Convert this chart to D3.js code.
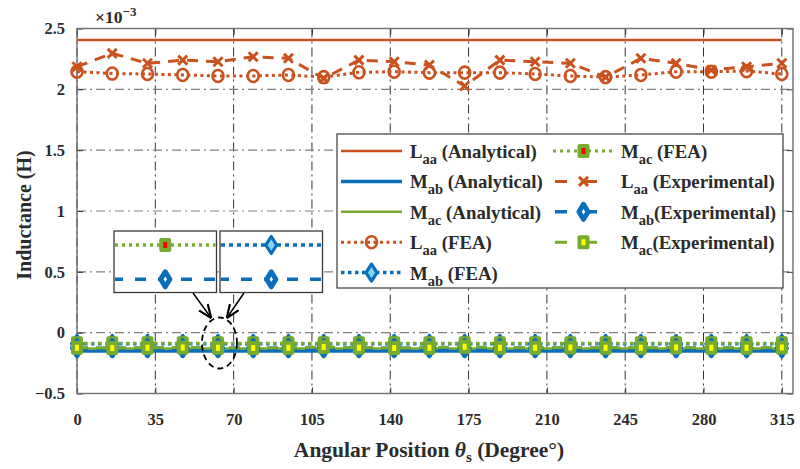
<!DOCTYPE html>
<html>
<head>
<meta charset="utf-8">
<script src="https://d3js.org/d3.v7.min.js"></script>
<style>
body { margin: 0; background: #fff; }
svg text { font-family: "Liberation Serif", "DejaVu Serif", serif; font-weight: bold; fill: #2b2b2b; }
</style>
</head>
<body>
<script>
// angular positions (degree) and inductances (x 10^-3 H)
var angles = [0, 15.75, 31.5, 47.25, 63, 78.75, 94.5, 110.25, 126, 141.75, 157.5,
              173.25, 189, 204.75, 220.5, 236.25, 252, 267.75, 283.5, 299.25, 315];

var laaAnalytical = [2.405, 2.405, 2.405, 2.405, 2.405, 2.405, 2.405, 2.405, 2.405, 2.405, 2.405,
                     2.405, 2.405, 2.405, 2.405, 2.405, 2.405, 2.405, 2.405, 2.405, 2.405];
var mabAnalytical = [-0.150, -0.150, -0.150, -0.150, -0.150, -0.150, -0.150, -0.150, -0.150, -0.150, -0.150,
                     -0.150, -0.150, -0.150, -0.150, -0.150, -0.150, -0.150, -0.150, -0.150, -0.150];
var macAnalytical = [-0.130, -0.130, -0.130, -0.130, -0.130, -0.130, -0.130, -0.130, -0.130, -0.130, -0.130,
                     -0.130, -0.130, -0.130, -0.130, -0.130, -0.130, -0.130, -0.130, -0.130, -0.130];
var laaFEA = [2.145, 2.130, 2.126, 2.118, 2.110, 2.110, 2.118, 2.100, 2.140, 2.145, 2.137,
              2.137, 2.137, 2.126, 2.110, 2.100, 2.118, 2.145, 2.145, 2.150, 2.126];
var mabFEA = [-0.092, -0.092, -0.092, -0.092, -0.092, -0.092, -0.092, -0.092, -0.092, -0.092, -0.092,
              -0.092, -0.092, -0.092, -0.092, -0.092, -0.092, -0.092, -0.092, -0.092, -0.092];
var macFEA = [-0.086, -0.086, -0.086, -0.086, -0.086, -0.086, -0.086, -0.086, -0.086, -0.086, -0.086,
              -0.086, -0.086, -0.086, -0.086, -0.086, -0.086, -0.086, -0.086, -0.086, -0.086];
var laaExp = [2.186, 2.296, 2.214, 2.240, 2.227, 2.268, 2.255, 2.090, 2.240, 2.227, 2.200,
              2.027, 2.240, 2.227, 2.214, 2.100, 2.255, 2.214, 2.159, 2.186, 2.214];
var mabExp = [-0.128, -0.128, -0.128, -0.128, -0.128, -0.128, -0.128, -0.128, -0.128, -0.128, -0.128,
              -0.128, -0.128, -0.128, -0.128, -0.128, -0.128, -0.128, -0.128, -0.128, -0.128];
var macExp = [-0.124, -0.126, -0.124, -0.122, -0.124, -0.126, -0.124, -0.118, -0.124, -0.126, -0.124,
              -0.116, -0.124, -0.124, -0.122, -0.124, -0.124, -0.122, -0.124, -0.124, -0.122];

var xTicks = [0, 35, 70, 105, 140, 175, 210, 245, 280, 315];
var yTicks = [-0.5, 0, 0.5, 1, 1.5, 2, 2.5];
var yTickLabels = ["\u22120.5", "0", "0.5", "1", "1.5", "2", "2.5"];

var orange = "#c9521f", blue = "#0a6fb8", green = "#77ab30";

var series = [
  {sym: "L", sub: "aa", label: " (Analytical)", values: laaAnalytical, color: orange, width: 2.5, dash: null, marker: null},
  {sym: "M", sub: "ab", label: " (Analytical)", values: mabAnalytical, color: blue, width: 3.5, dash: null, marker: null},
  {sym: "M", sub: "ac", label: " (Analytical)", values: macAnalytical, color: green, width: 2.5, dash: null, marker: null},
  {sym: "L", sub: "aa", label: " (FEA)", values: laaFEA, color: orange, width: 3, dash: "3,3.5", marker: "circle", fill: "none"},
  {sym: "M", sub: "ab", label: " (FEA)", values: mabFEA, color: blue, width: 3.5, dash: "3.5,3.5", marker: "diamond", fill: "#86d3f2"},
  {sym: "M", sub: "ac", label: "  (FEA)", values: macFEA, color: green, width: 3, dash: "3,4", marker: "square", fill: "#ff0000"},
  {sym: "L", sub: "aa", label: " (Experimental)", values: laaExp, color: orange, width: 3, dash: "11,8", marker: "cross", fill: "none"},
  {sym: "M", sub: "ab", label: "(Experimental)", values: mabExp, color: blue, width: 3.5, dash: "11,8", marker: "solidDiamond", fill: "#ffffff"},
  {sym: "M", sub: "ac", label: "(Experimental)", values: macExp, color: green, width: 3, dash: "11,8", marker: "square", fill: "#ffff00"}
];

var W = 800, H = 469;
var pLeft = 77, pTop = 28.5, pRight = 793, pBottom = 393.5;

var x = d3.scaleLinear().domain([0, 320]).range([pLeft, pRight]);
var y = d3.scaleLinear().domain([-0.5, 2.5]).range([pBottom, pTop]);

var svg = d3.select("body").append("svg")
    .attr("width", W)
    .attr("height", H);

// grid
svg.append("g").selectAll("line")
    .data(xTicks)
    .enter().append("line")
    .attr("x1", function(d) { return x(d); })
    .attr("x2", function(d) { return x(d); })
    .attr("y1", pTop).attr("y2", pBottom)
    .attr("stroke", "#333").attr("stroke-width", 1)
    .attr("stroke-dasharray", "9,4,2,4");

svg.append("g").selectAll("line")
    .data(yTicks)
    .enter().append("line")
    .attr("x1", pLeft).attr("x2", pRight)
    .attr("y1", function(d) { return y(d); })
    .attr("y2", function(d) { return y(d); })
    .attr("stroke", "#808080").attr("stroke-width", 1.2)
    .attr("stroke-dasharray", "9,4,2,4");

// axes (ticks inward, labels drawn by the axis)
var xAxis = d3.axisBottom(x).tickValues(xTicks).tickSize(-6).tickPadding(20);
var xAxisTop = d3.axisTop(x).tickValues(xTicks).tickSize(-6).tickFormat("");
var yAxis = d3.axisLeft(y).tickValues(yTicks).tickSize(-6).tickPadding(12)
    .tickFormat(function(d, i) { return yTickLabels[i]; });
var yAxisRight = d3.axisRight(y).tickValues(yTicks).tickSize(-6).tickFormat("");

function styleAxis(g) {
  g.select(".domain").remove();
  g.selectAll(".tick line").attr("stroke", "#333").attr("stroke-width", 1);
  g.selectAll(".tick text").attr("font-size", 16.5).attr("fill", "#2b2b2b")
      .attr("font-family", "Liberation Serif, DejaVu Serif, serif").attr("font-weight", "bold");
}

svg.append("g").attr("transform", "translate(0," + pBottom + ")").call(xAxis).call(styleAxis);
svg.append("g").attr("transform", "translate(0," + pTop + ")").call(xAxisTop).call(styleAxis);
svg.append("g").attr("transform", "translate(" + pLeft + ",0)").call(yAxis).call(styleAxis);
svg.append("g").attr("transform", "translate(" + pRight + ",0)").call(yAxisRight).call(styleAxis);

svg.append("rect")
    .attr("x", pLeft).attr("y", pTop)
    .attr("width", pRight - pLeft).attr("height", pBottom - pTop)
    .attr("fill", "none").attr("stroke", "#6e6e6e").attr("stroke-width", 1.4);

// marker shapes
function markerPath(kind) {
  if (kind === "circle") return "M-5.5,0A5.5,6 0 1,0 5.5,0A5.5,6 0 1,0 -5.5,0Z";
  if (kind === "diamond") return "M0,-8.5L5.5,0L0,8.5L-5.5,0Z";
  if (kind === "solidDiamond") return "M0,-7.5L4.6,0L0,7.5L-4.6,0Z";
  if (kind === "square") return "M-4,-5H4V5H-4Z";
  if (kind === "cross") return "M-4.5,-4.5L4.5,4.5M-4.5,4.5L4.5,-4.5";
  return "";
}

function drawMarker(g, s, px, py) {
  var sw = s.marker === "diamond" ? 3.2 : s.marker === "solidDiamond" ? 5 :
           s.marker === "square" ? 4 : s.marker === "cross" ? 3 : 2.6;
  g.append("path")
      .attr("d", markerPath(s.marker))
      .attr("transform", "translate(" + px + "," + py + ")")
      .attr("fill", s.fill)
      .attr("stroke", s.color)
      .attr("stroke-width", sw)
      .attr("stroke-linejoin", "round");
}

var line = d3.line()
    .x(function(d, i) { return x(angles[i]); })
    .y(function(d) { return y(d); });

var plot = svg.append("g");
series.forEach(function(s) {
  plot.append("path")
      .datum(s.values)
      .attr("d", line)
      .attr("fill", "none")
      .attr("stroke", s.color)
      .attr("stroke-width", s.width)
      .attr("stroke-dasharray", s.dash);
  if (s.marker) {
    s.values.forEach(function(v, i) { drawMarker(plot, s, x(angles[i]), y(v)); });
  }
});

// exponent
var ex = svg.append("text").attr("x", 95).attr("y", 23).attr("font-size", 17.5).text("\u00d710");
ex.append("tspan").attr("dy", -7).attr("font-size", 13).text("\u22123");

// legend
var lg = svg.append("g");
lg.append("rect")
    .attr("x", 337).attr("y", 134).attr("width", 446).attr("height", 154)
    .attr("fill", "#fff").attr("stroke", "#3a3a3a").attr("stroke-width", 1.2);

series.forEach(function(s, k) {
  var col = k < 5 ? 0 : 1;
  var row = k < 5 ? k : k - 5;
  var cy = 151 + row * 30.4;
  var x0 = col === 0 ? 341 : 553;
  var tx = col === 0 ? 410 : 621;
  lg.append("line")
      .attr("x1", x0).attr("x2", x0 + 61)
      .attr("y1", cy).attr("y2", cy)
      .attr("stroke", s.color)
      .attr("stroke-width", s.width)
      .attr("stroke-dasharray", s.dash ? (s.dash === "11,8" ? "12,18" : s.dash) : null)
      .attr("stroke-dashoffset", s.dash === "11,8" ? -2 : 0);
  if (s.marker) drawMarker(lg, s, x0 + 30.5, cy);
  var t = lg.append("text").attr("x", tx).attr("y", cy + 7).attr("font-size", 18.8);
  t.append("tspan").text(s.sym);
  t.append("tspan").attr("dy", 6).attr("font-size", 14.5).text(s.sub);
  t.append("tspan").attr("dy", -6).text(s.label);
});

// zoomed insets around 63 degrees
var focus = 4;
var insets = [
  {x0: 114, top: series[5], bottom: series[7]},
  {x0: 220, top: series[4], bottom: series[7]}
];
insets.forEach(function(b) {
  var g = svg.append("g");
  var bw = 102.5, bh = 61.5, by = 231;
  g.append("rect").attr("x", b.x0).attr("y", by).attr("width", bw).attr("height", bh)
      .attr("fill", "#fff").attr("stroke", "#3a3a3a").attr("stroke-width", 1.3);
  var ix = d3.scaleLinear().domain([angles[focus] - 3, angles[focus] + 3]).range([b.x0 + 1, b.x0 + bw - 1]);
  var iy = d3.scaleLinear()
      .domain([b.bottom.values[focus], b.top.values[focus]])
      .range([by + 48.3, by + 14]);
  [b.top, b.bottom].forEach(function(s) {
    var v = s.values[focus];
    g.append("line")
        .attr("x1", ix.range()[0]).attr("x2", ix.range()[1])
        .attr("y1", iy(v)).attr("y2", iy(v))
        .attr("stroke", s.color).attr("stroke-width", 3.5)
        .attr("stroke-dasharray", s.dash === "11,8" ? "11,12" : (s === series[4] ? "4,4" : "3,4"))
        .attr("stroke-dashoffset", s.dash === "11,8" ? 3 : 0);
    drawMarker(g, s, ix(angles[focus]), iy(v));
  });
});

// arrows and ellipse
var defs = svg.append("defs");
defs.append("marker").attr("id", "arr")
    .attr("viewBox", "0 0 10 10").attr("refX", 9).attr("refY", 5)
    .attr("markerWidth", 9).attr("markerHeight", 9).attr("orient", "auto")
    .append("path").attr("d", "M0,1L10,5L0,9").attr("fill", "none")
    .attr("stroke", "#000").attr("stroke-width", 1.6);

var ecx = x(angles[focus]) + 1.5, ecy = y(-0.085);
svg.append("ellipse")
    .attr("cx", ecx).attr("cy", ecy).attr("rx", 17.5).attr("ry", 25.5)
    .attr("fill", "none").attr("stroke", "#000").attr("stroke-width", 1.8)
    .attr("stroke-dasharray", "6,4");

svg.append("line").attr("x1", 193).attr("y1", 293).attr("x2", ecx - 9).attr("y2", 317)
    .attr("stroke", "#000").attr("stroke-width", 1.5).attr("marker-end", "url(#arr)");
svg.append("line").attr("x1", 244).attr("y1", 293).attr("x2", ecx + 8).attr("y2", 317)
    .attr("stroke", "#000").attr("stroke-width", 1.5).attr("marker-end", "url(#arr)");

// axis titles
var xt = svg.append("text").attr("x", 429).attr("y", 457).attr("text-anchor", "middle").attr("font-size", 21.5);
xt.append("tspan").text("Angular Position ");
xt.append("tspan").attr("font-style", "italic").text("\u03b8");
xt.append("tspan").attr("dy", 5).attr("font-size", 15).text("s");
xt.append("tspan").attr("dy", -5).text(" (Degree\u00b0)");

svg.append("text")
    .attr("transform", "translate(31,215) rotate(-90)")
    .attr("text-anchor", "middle")
    .attr("font-size", 20)
    .text("Inductance (H)");
</script>
</body>
</html>
